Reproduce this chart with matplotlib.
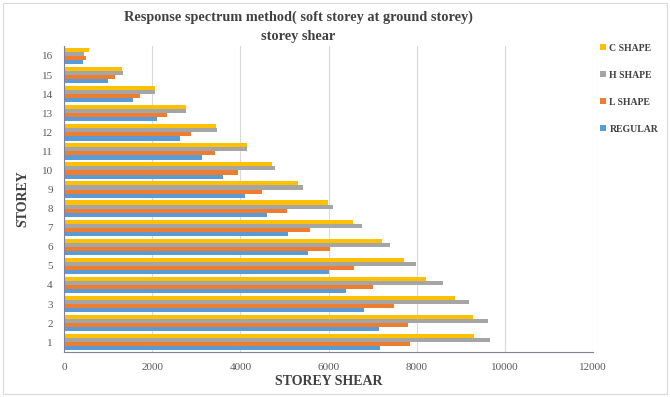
import matplotlib.pyplot as plt
import numpy as np
from matplotlib.patches import Rectangle

storeys = np.arange(1, 17)
regular = [7170, 7150, 6800, 6400, 6000, 5540, 5070, 4600, 4110, 3610, 3120, 2630, 2100, 1570, 1000, 420]
l_shape = [7850, 7800, 7480, 7010, 6580, 6040, 5570, 5050, 4490, 3950, 3430, 2890, 2330, 1720, 1150, 490]
h_shape = [9660, 9620, 9180, 8600, 7990, 7400, 6760, 6100, 5430, 4790, 4150, 3460, 2770, 2060, 1340, 450]
c_shape = [9300, 9280, 8870, 8210, 7710, 7210, 6560, 5990, 5310, 4710, 4140, 3440, 2770, 2060, 1310, 560]

series = [("REGULAR", regular, "#5B9BD5"),
          ("L SHAPE", l_shape, "#ED7D31"),
          ("H SHAPE", h_shape, "#A5A5A5"),
          ("C SHAPE", c_shape, "#FFC000")]

plt.rcParams['font.family'] = ['Liberation Serif', 'DejaVu Serif']

fig = plt.figure(figsize=(6.7, 3.97), dpi=100)
ax = fig.add_axes([0.0955, 0.114, 0.79, 0.769])

bar_h = 0.215
for i, (name, vals, col) in enumerate(series):
    ax.barh(storeys + (i - 1.5) * bar_h, vals, height=bar_h, color=col, label=name, zorder=2)

ax.set_xlim(0, 12000)
ax.set_ylim(0.5, 16.5)
ax.set_xticks(np.arange(0, 12001, 2000))
ax.set_yticks(storeys)
ax.grid(axis='x', color='#d9d9d9', linewidth=0.8, zorder=0)
ax.tick_params(axis='both', length=0, labelsize=8, colors='#595959', pad=8)
for s in ['top', 'right']:
    ax.spines[s].set_visible(False)
ax.spines['left'].set_color('#7f7f9f')
ax.spines['bottom'].set_color('#7f7f9f')

ax.set_xlabel("STOREY SHEAR", fontsize=10, fontweight='bold', color='#404040', labelpad=2)
ax.set_ylabel("STOREY", fontsize=10, fontweight='bold', color='#404040', labelpad=9)

fig.text(0.445, 0.957, "Response spectrum method( soft storey at ground storey)",
         ha='center', va='center', fontsize=10.3, fontweight='bold', color='#404040')
fig.text(0.445, 0.907, "storey shear", ha='center', va='center',
         fontsize=10.3, fontweight='bold', color='#404040')

handles, labels = ax.get_legend_handles_labels()
leg = fig.legend(handles[::-1], labels[::-1], loc='upper left', bbox_to_anchor=(0.882, 0.912),
                 frameon=False, fontsize=7, handlelength=0.6, handleheight=0.6,
                 handletextpad=0.4, labelspacing=1.85, labelcolor='#404040')
for t in leg.get_texts():
    t.set_fontweight('bold')

# light frame around the whole chart area
fig.patches.append(Rectangle((0.005, 0.008), 0.99, 0.984, transform=fig.transFigure,
                             fill=False, edgecolor='#d9d9d9', linewidth=0.8))

fig.savefig("out.png", dpi=100)
